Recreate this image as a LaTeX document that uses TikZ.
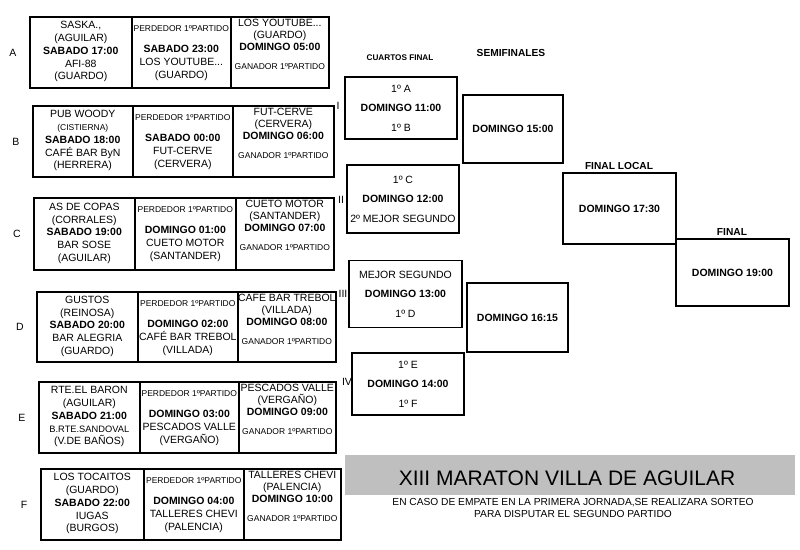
\documentclass[tikz,border=0pt]{standalone}
\usepackage{fontspec}
\setmainfont{Liberation Sans}
\tikzset{
  x=1pt, y=-1pt,
  cell/.style={draw, line width=1.6pt, inner sep=0pt, anchor=north west},
  tx/.style={inner sep=0pt, anchor=mid, font=\fontsize{10.5}{12.8}\selectfont},
  bx/.style={tx, font=\fontsize{10.5}{12.8}\selectfont\bfseries},
  sm/.style={tx, font=\fontsize{8.5}{10}\selectfont},
  qf/.style={draw, line width=1.6pt, inner sep=0pt, align=center, font=\fontsize{10.5}{19.5}\selectfont},
  hd/.style={inner sep=0pt, anchor=mid, font=\bfseries\fontsize{10.2}{12}\selectfont},
}
\newcommand\grp[8]{%
  \node[cell, minimum width=#5-#3, minimum height=#8] (#11) at (#3,#4) {};
  \node[cell, minimum width=#6-#5, minimum height=#8] (#12) at (#5,#4) {};
  \node[cell, minimum width=#7-#6, minimum height=#8] (#13) at (#6,#4) {};
  \node[tx] (#1L) at (#3-16,#4+#8/2+2) {#2};
}
\newcommand\cells[8]{%
  \node[tx, align=center, anchor=center] (#1c1) at ([yshift=0.5pt]#11.center) {#2};
  \node[sm] (#1p) at ([yshift=-13pt]#12.north) {PERDEDOR 1ºPARTIDO};
  \node[bx] (#1b2) at ([yshift=-34pt]#12.north) {#3};
  \node[tx] (#1t2) at ([yshift=-47pt]#12.north) {#4};
  \node[tx] (#1k2) at ([yshift=-60pt]#12.north) {#5};
  \node[tx] (#1t3) at ([yshift=-7.5pt]#13.north) {#6};
  \node[tx] (#1k3) at ([yshift=-19.5pt]#13.north) {#7};
  \node[bx] (#1b3) at ([yshift=-31.5pt]#13.north) {#8};
  \node[sm] (#1g) at ([yshift=-51pt]#13.north) {GANADOR 1ºPARTIDO};
}
\begin{document}
\begin{tikzpicture}
\useasboundingbox (0,0) rectangle (800,549);
\fill[white] (0,0) rectangle (800,549);

% groups
\grp{A}{A}{29}{16}{131}{230}{328}{71}
\cells{A}{SASKA.,\\(AGUILAR)\\\textbf{SABADO 17:00}\\AFI-88\\(GUARDO)}{SABADO 23:00}{LOS YOUTUBE...}{(GUARDO)}{LOS YOUTUBE...}{(GUARDO)}{DOMINGO 05:00}

\grp{B}{B}{32}{105}{132}{232}{333}{71}
\cells{B}{PUB WOODY\\{\fontsize{8.5}{12.8}\selectfont(CISTIERNA)}\\\textbf{SABADO 18:00}\\CAFÉ BAR ByN\\(HERRERA)}{SABADO 00:00}{FUT-CERVE}{(CERVERA)}{FUT-CERVE}{(CERVERA)}{DOMINGO 06:00}

\grp{C}{C}{33}{197}{134}{235}{333}{72}
\cells{C}{AS DE COPAS\\(CORRALES)\\\textbf{SABADO 19:00}\\BAR SOSE\\(AGUILAR)}{DOMINGO 01:00}{CUETO MOTOR}{(SANTANDER)}{CUETO MOTOR}{(SANTANDER)}{DOMINGO 07:00}

\grp{D}{D}{36}{291}{137}{237}{335}{70}
\cells{D}{GUSTOS\\(REINOSA)\\\textbf{SABADO 20:00}\\BAR ALEGRIA\\(GUARDO)}{DOMINGO 02:00}{CAFÉ BAR TREBOL}{(VILLADA)}{CAFÉ BAR TREBOL}{(VILLADA)}{DOMINGO 08:00}

\grp{E}{E}{38}{381}{139}{238}{335}{71}
\cells{E}{RTE.EL BARON\\(AGUILAR)\\\textbf{SABADO 21:00}\\{\fontsize{9.3}{12.8}\selectfont B.RTE.SANDOVAL}\\(V.DE BAÑOS)}{DOMINGO 03:00}{PESCADOS VALLE}{(VERGAÑO)}{PESCADOS VALLE}{(VERGAÑO)}{DOMINGO 09:00}

\grp{F}{F}{40}{468}{143}{243}{340}{71}
\cells{F}{LOS TOCAITOS\\(GUARDO)\\\textbf{SABADO 22:00}\\IUGAS\\(BURGOS)}{DOMINGO 04:00}{TALLERES CHEVI}{(PALENCIA)}{TALLERES CHEVI}{(PALENCIA)}{DOMINGO 10:00}

% roman numerals
\node[tx] (r1) at (338,107) {I};
\node[tx] (r2) at (341,201) {II};
\node[tx] (r3) at (343,295) {III};
\node[tx] (r4) at (347,383) {IV};

% headings
\node[hd, font=\bfseries\fontsize{8.2}{10}\selectfont] (hq) at (400,58) {CUARTOS FINAL};
\node[hd] (hs) at (511,54) {SEMIFINALES};
\node[hd] (hl) at (619,167) {FINAL LOCAL};
\node[hd] (hf) at (732,233) {FINAL};

% quarter finals
\node[qf, minimum width=112, minimum height=62] (q1) at (401,108) {1º A\\\textbf{DOMINGO 11:00}\\1º B};
\node[qf, minimum width=112, minimum height=68] (q2) at (403,199) {1º C\\\textbf{DOMINGO 12:00}\\2º MEJOR SEGUNDO};
\node[qf, minimum width=113, minimum height=67] (q3) at (405.5,294) {MEJOR SEGUNDO\\\textbf{DOMINGO 13:00}\\1º D};
\node[qf, minimum width=112, minimum height=62] (q4) at (408,384) {1º E\\\textbf{DOMINGO 14:00}\\1º F};

% semifinals and finals
\node[qf, minimum width=100, minimum height=68] (s1) at (513,129) {\textbf{DOMINGO 15:00}};
\node[qf, minimum width=101, minimum height=69] (s2) at (517.5,317.5) {\textbf{DOMINGO 16:15}};
\node[qf, minimum width=113, minimum height=71] (fl) at (619.5,208.5) {\textbf{DOMINGO 17:30}};
\node[qf, minimum width=113, minimum height=67] (ff) at (732.5,272.5) {\textbf{DOMINGO 19:00}};

% title band
\node[fill=black!25, inner sep=0pt, minimum width=450, minimum height=40, anchor=north west] (band) at (345,455) {};
\node[inner sep=0pt, anchor=mid, font=\fontsize{21}{24}\selectfont] (title) at (567,483) {XIII MARATON VILLA DE AGUILAR};
\node[inner sep=0pt, align=center, font=\fontsize{10.2}{11.8}\selectfont] (note) at (573,508) {EN CASO DE EMPATE EN LA PRIMERA JORNADA,SE REALIZARA SORTEO\\PARA DISPUTAR EL SEGUNDO PARTIDO};
\end{tikzpicture}
\end{document}
